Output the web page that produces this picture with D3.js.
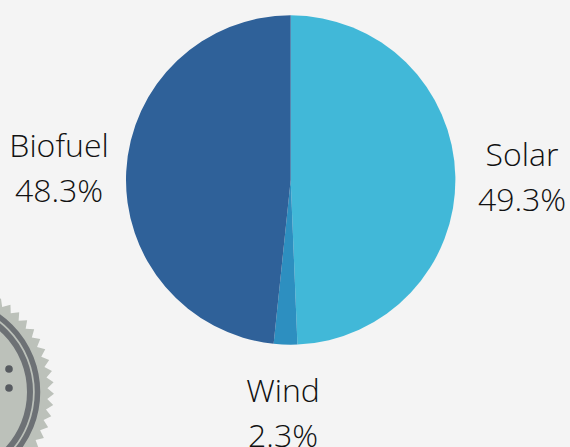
<!DOCTYPE html>
<html><head><meta charset="utf-8">
<script src="https://cdn.jsdelivr.net/npm/d3@7/dist/d3.min.js"></script>
<style>html,body{margin:0;padding:0;background:#f4f4f4;overflow:hidden}svg{display:block}text{font-family:"Open Sans",sans-serif;font-weight:300;font-size:32px;fill:#111}</style>
</head><body><svg id="c" width="570" height="447"></svg>
<script>
const categories=["Solar","Wind","Biofuel"];
const shares=[49.3,2.3,48.3];
const colors=["#41b8d8","#2d8fc0","#2f6199"];
const labelPos=[[522,166],[283,402],[59,157]];
const svg=d3.select("#c");
// badge decoration
const badge=svg.append("g").attr("transform","translate(-55,392)");
const teethCount=60;
const star=d3.lineRadial().curve(d3.curveLinearClosed)
 .angle(d=>d.a).radius(d=>d.r)(d3.range(teethCount).flatMap(i=>[{a:(i+.15)/teethCount*2*Math.PI,r:109},{a:(i+.65)/teethCount*2*Math.PI,r:102.5}]));
badge.append("path").attr("d",star).attr("fill","#bcc1ba");
badge.append("circle").attr("r",92.5).attr("fill","none").attr("stroke","#6d7175").attr("stroke-width",5.5);
badge.append("circle").attr("r",85).attr("fill","none").attr("stroke","#6d7175").attr("stroke-width",6);
[[64,-23],[64,-4]].forEach(d=>badge.append("circle").attr("cx",d[0]).attr("cy",d[1]).attr("r",3.8).attr("fill","#575b60"));
// pie
const g=svg.append("g").attr("transform","translate(290.7,180)");
const pie=d3.pie().sort(null)(shares);
const arc=d3.arc().innerRadius(0).outerRadius(164.7);
g.selectAll("path").data(pie).join("path").attr("d",arc).attr("fill",(d,i)=>colors[i]);
categories.forEach((c,i)=>{
 const t=svg.append("text").attr("text-anchor","middle").attr("x",labelPos[i][0]).attr("y",labelPos[i][1]);
 t.append("tspan").attr("x",labelPos[i][0]).text(c);
 t.append("tspan").attr("x",labelPos[i][0]).attr("dy",44.5).text(shares[i].toFixed(1)+"%");
});
</script></body></html>
